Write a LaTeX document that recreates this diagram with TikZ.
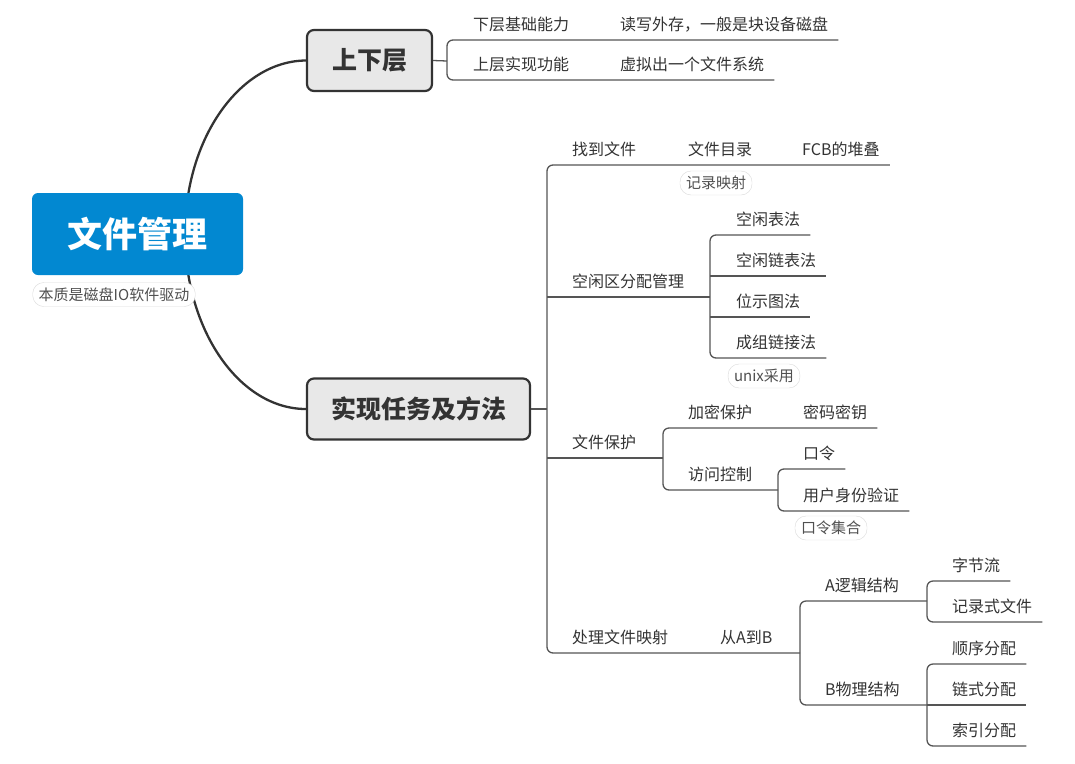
\documentclass[tikz,border=0pt]{standalone}
\usepackage{fontspec}
\setmainfont{Noto Sans CJK SC}
\usetikzlibrary{backgrounds}

\definecolor{rootblue}{RGB}{2,136,209}
\definecolor{boxgray}{RGB}{232,232,232}
\definecolor{inkgray}{RGB}{51,51,51}
\definecolor{linegray}{RGB}{85,85,85}
\definecolor{pillgray}{RGB}{218,218,218}
\definecolor{pilltext}{RGB}{80,80,80}

\begin{document}
\begin{tikzpicture}[x=1pt,y=-1pt]
       \tikzset{root/.style={rectangle, rounded corners=6pt, fill=rootblue, text=white,
                inner sep=0pt, minimum width=211pt, minimum height=82pt,
                font=\bfseries\fontsize{35}{40}\selectfont}}

       \tikzset{branch/.style={rectangle, rounded corners=7pt, draw=inkgray, line width=2.2pt,
                fill=boxgray, text=inkgray, inner sep=0pt, minimum height=61pt,
                font=\bfseries\fontsize{25}{30}\selectfont}}

       \tikzset{topic/.style={anchor=south west, inner xsep=0pt, minimum height=31pt,
                text=inkgray, font=\fontsize{16}{19}\selectfont}}

       \tikzset{pill/.style={rectangle, rounded corners=11pt, draw=pillgray, fill=white,
                text=pilltext, inner xsep=6pt, inner ysep=0pt, minimum height=24pt,
                font=\fontsize{15}{18}\selectfont}}

       \tikzset{link/.style={draw=linegray, line width=1.3pt, rounded corners=6pt}}
       \tikzset{trunk/.style={draw=inkgray, line width=2.3pt}}

        \useasboundingbox (0,0) rectangle (1075,763);

        \node[root] (root) at (137.5,234) {文件管理};
        \node[pill] (essence) at (114,294.5) {本质是磁盘IO软件驱动};
        \node[branch, minimum width=125pt] (layers) at (369.5,60.5) {上下层};
        \node[branch, minimum width=223pt] (tasks) at (418.5,409) {实现任务及方法};

        % upper / lower layer
        \node[topic] (lower) at (473,40) {下层基础能力};
        \node[topic] (lowerc) at (620,40) {读写外存，一般是块设备磁盘};
        \node[topic] (upper) at (473,80) {上层实现功能};
        \node[topic] (upperc) at (620,80) {虚拟出一个文件系统};

        % tasks and methods
        \node[topic] (find) at (572,165) {找到文件};
        \node[topic] (findc) at (688,165) {文件目录};
        \node[topic] (fcb) at (802,165) {FCB的堆叠};
        \node[pill] (record) at (716,183) {记录映射};

        \node[topic] (free) at (572,297) {空闲区分配管理};
        \node[topic] (ftable) at (736,235) {空闲表法};
        \node[topic] (flist) at (736,276) {空闲链表法};
        \node[topic] (fbitmap) at (736,317) {位示图法};
        \node[topic] (fgroup) at (736,358) {成组链接法};
        \node[pill] (unix) at (764,376) {unix采用};

        \node[topic] (protect) at (572,458) {文件保护};
        \node[topic] (crypt) at (688,428) {加密保护};
        \node[topic] (cryptc) at (803,428) {密码密钥};
        \node[topic] (access) at (688,490) {访问控制};
        \node[topic] (passwd) at (803,469) {口令};
        \node[topic] (userid) at (803,511) {用户身份验证};
        \node[pill] (pwset) at (831,528) {口令集合};

        \node[topic] (mapping) at (572,653) {处理文件映射};
        \node[topic] (mappingc) at (720,653) {从A到B};
        \node[topic] (logical) at (825,601) {A逻辑结构};
        \node[topic] (stream) at (952,581) {字节流};
        \node[topic] (records) at (952,622) {记录式文件};
        \node[topic] (physical) at (825,705) {B物理结构};
        \node[topic] (seqalloc) at (952,664) {顺序分配};
        \node[topic] (chainalloc) at (952,705) {链式分配};
        \node[topic] (idxalloc) at (952,746) {索引分配};

        \coordinate (hub) at (185,234);
        \coordinate (j1) at (447,61);
        \coordinate (j2) at (547,409);
        \coordinate (j3) at (710,297);
        \coordinate (j4) at (663,458);
        \coordinate (j5) at (778,490);
        \coordinate (j6) at (800,653);
        \coordinate (j7) at (927,601);
        \coordinate (j8) at (927,705);

        \begin{pgfonlayer}{background}
        \draw[trunk] (hub) .. controls (185,138) and (240,61) .. (layers.west);
        \draw[trunk] (hub) .. controls (185,331) and (240,409) .. (tasks.west);
        \end{pgfonlayer}

        \draw[link] (layers.east) -- (j1);
        \draw[link] ([xshift=10pt]lowerc.south east) -- (j1 |- lower.south) -- (j1 |- upper.south) -- ([xshift=10pt]upperc.south east);

        \draw[link] (tasks.east) -- (j2);
        \draw[link] ([xshift=10pt]fcb.south east) -- (j2 |- find.south) -- (j2 |- mapping.south) -- (j6);
        \draw[link] (j2 |- free.south) -- (j3);
        \draw[link] (j2 |- protect.south) -- (j4);

        \draw[link] ([xshift=10pt]ftable.south east) -- (j3 |- ftable.south) -- (j3 |- fgroup.south) -- ([xshift=10pt]fgroup.south east);
        \draw[link] (j3 |- flist.south) -- ([xshift=10pt]flist.south east);
        \draw[link] (j3 |- fbitmap.south) -- ([xshift=10pt]fbitmap.south east);

        \draw[link] ([xshift=10pt]cryptc.south east) -- (j4 |- crypt.south) -- (j4 |- access.south) -- (j5);
        \draw[link] ([xshift=10pt]passwd.south east) -- (j5 |- passwd.south) -- (j5 |- userid.south) -- ([xshift=10pt]userid.south east);

        \draw[link] (j7) -- (j6 |- logical.south) -- (j6 |- physical.south) -- (j8);
        \draw[link] ([xshift=10pt]stream.south east) -- (j7 |- stream.south) -- (j7 |- records.south) -- ([xshift=10pt]records.south east);
        \draw[link] ([xshift=10pt]seqalloc.south east) -- (j8 |- seqalloc.south) -- (j8 |- idxalloc.south) -- ([xshift=10pt]idxalloc.south east);
        \draw[link] (j8) -- ([xshift=10pt]chainalloc.south east);

\end{tikzpicture}
\end{document}
